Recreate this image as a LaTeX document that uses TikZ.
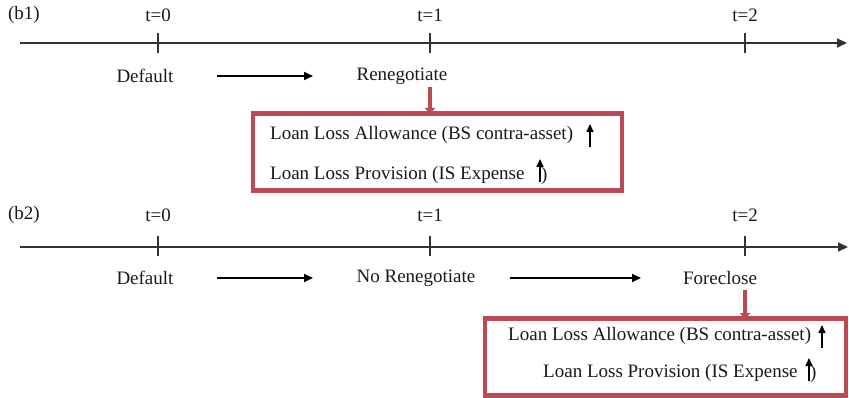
\documentclass[tikz,border=0pt]{standalone}
\usepackage{fontspec}
\setmainfont{Liberation Serif}
\usetikzlibrary{arrows.meta}
\definecolor{boxred}{RGB}{186,74,84}
\definecolor{linegray}{RGB}{50,50,50}
\tikzset{
  lbl/.style={inner sep=0pt, font=\fontsize{19}{22}\selectfont, text=black!90},
  timeline/.style={draw=linegray, line width=1.8pt, -{Triangle[length=10pt,width=9pt]}},
  tick/.style={draw=linegray, line width=1.2pt},
  flow/.style={draw=black, line width=1.8pt, -{Triangle[length=9pt,width=8pt]}},
  redarrow/.style={draw=boxred, line width=3.5pt, -{Triangle[length=6pt,width=10pt]}},
  redbox/.style={draw=boxred, line width=4.5pt, fill=white},
  uparrow/.style={draw=black, line width=1.5pt, -{Triangle[length=8pt,width=7pt]}}
}
\begin{document}
\begin{tikzpicture}[x=1pt,y=-1pt]
\useasboundingbox (0,0) rectangle (849,398);
% ---------- (b1) ----------
\node[lbl] (b1) at (24,15) {(b1)};
\node[lbl] (t0a) at (158,15) {t=0};
\node[lbl] (t1a) at (430,15) {t=1};
\node[lbl] (t2a) at (745,15) {t=2};
\coordinate (s1) at (20,43);
\coordinate (e1) at (847,43);
\draw[timeline] (s1) -- (e1);
\coordinate (k0a) at (158,33); \coordinate (k0b) at (158,53);
\coordinate (k1a) at (430,33); \coordinate (k1b) at (430,53);
\coordinate (k2a) at (745,33); \coordinate (k2b) at (745,53);
\draw[tick] (k0a) -- (k0b);
\draw[tick] (k1a) -- (k1b);
\draw[tick] (k2a) -- (k2b);
\node[lbl] (def1) at (145,76) {Default};
\node[lbl] (ren) at (402,76) {Renegotiate};
\coordinate (f1s) at (217,76); \coordinate (f1e) at (313,76);
\draw[flow] (f1s) -- (f1e);
\node[redbox, minimum width=369pt, minimum height=77pt] (box1) at (437.5,152) {};
\coordinate (r1s) at (430,87); \coordinate (r1e) at (430,114);
\draw[redarrow] (r1s) -- (r1e);
\node[lbl, anchor=west] (a1) at (270,135) {Loan Loss Allowance (BS contra-asset)};
\coordinate (u1s) at (590,147); \coordinate (u1e) at (590,124);
\draw[uparrow] (u1s) -- (u1e);
\node[lbl, anchor=west] (p1) at (270,175) {Loan Loss Provision (IS Expense};
\node[lbl, anchor=west] (p1c) at (541,176) {)};
\coordinate (u2s) at (540,182); \coordinate (u2e) at (540,159);
\draw[uparrow] (u2s) -- (u2e);
% ---------- (b2) ----------
\node[lbl] (b2) at (24,215) {(b2)};
\node[lbl] (t0b) at (158,215) {t=0};
\node[lbl] (t1b) at (430,215) {t=1};
\node[lbl] (t2b) at (745,215) {t=2};
\coordinate (s2) at (20,247);
\coordinate (e2) at (848,247);
\draw[timeline] (s2) -- (e2);
\coordinate (m0a) at (158,236); \coordinate (m0b) at (158,256);
\coordinate (m1a) at (430,236); \coordinate (m1b) at (430,256);
\coordinate (m2a) at (745,236); \coordinate (m2b) at (745,256);
\draw[tick] (m0a) -- (m0b);
\draw[tick] (m1a) -- (m1b);
\draw[tick] (m2a) -- (m2b);
\node[lbl] (def2) at (145,278) {Default};
\node[lbl] (noren) at (416,278) {No Renegotiate};
\node[lbl] (fore) at (720,278) {Foreclose};
\coordinate (f2s) at (217,278); \coordinate (f2e) at (313,278);
\draw[flow] (f2s) -- (f2e);
\coordinate (f3s) at (510,278); \coordinate (f3e) at (641,278);
\draw[flow] (f3s) -- (f3e);
\node[redbox, minimum width=361pt, minimum height=77pt] (box2) at (665.5,357) {};
\coordinate (r2s) at (745,290); \coordinate (r2e) at (745,319);
\draw[redarrow] (r2s) -- (r2e);
\node[lbl, anchor=west] (a2) at (508,336) {Loan Loss Allowance (BS contra-asset)};
\coordinate (u3s) at (822,348); \coordinate (u3e) at (822,325);
\draw[uparrow] (u3s) -- (u3e);
\node[lbl, anchor=west] (p2) at (543,373) {Loan Loss Provision (IS Expense};
\node[lbl, anchor=west] (p2c) at (810,374) {)};
\coordinate (u4s) at (809,381); \coordinate (u4e) at (809,358);
\draw[uparrow] (u4s) -- (u4e);
\end{tikzpicture}
\end{document}
